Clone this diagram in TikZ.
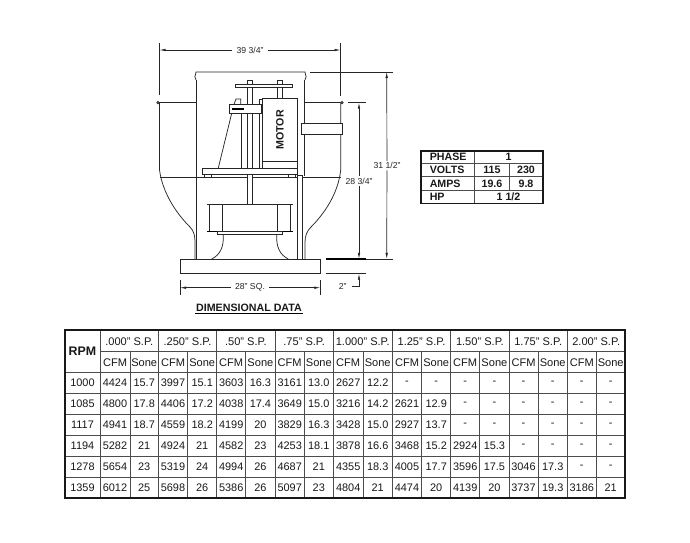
\documentclass[tikz,border=0pt]{standalone}
\usepackage{fontspec}
\setmainfont{Liberation Sans}
\usetikzlibrary{arrows.meta}
\tikzset{
  part/.style={draw=black!85,line width=0.55pt,fill=white},
  ln/.style={draw=black!85,line width=0.55pt},
  dim/.style={draw=black!85,line width=0.5pt},
  dimarrow/.style={dim,-{Latex[length=4.5pt,width=1.9pt]}},
  dimtext/.style={font=\fontsize{6.5}{7}\selectfont,text=black!85,inner xsep=3pt,inner ysep=1pt},
  cellt/.style={font=\fontsize{8.2}{9}\selectfont,text=black!90,inner sep=0pt},
  headt/.style={font=\fontsize{8.3}{9}\selectfont,text=black!90,inner sep=0pt},
  boldt/.style={font=\bfseries\fontsize{8}{9}\selectfont,text=black!90,inner sep=0pt},
  grid/.style={draw=black!70,line width=0.6pt},
  frame/.style={draw=black!90,line width=1.1pt},
}
\def\colx#1{\ifcase#1 82.5\or 115\or 144.2\or 173\or 202.2\or 231.2\or 260.4\or 289.7\or 318.8\or 348.2\or 377.7\or 407\or 436.2\or 465.2\or 494.4\or 523.5\or 552.7\or 581.8\or 610.7\fi}
\begin{document}
\begin{tikzpicture}[x=0.75pt,y=-0.75pt]
\useasboundingbox[fill=white] (0,0) rectangle (690,543);

% --- hood and housing
\draw[ln] (159.5,103) -- (159.5,170) .. controls (163,195) and (178,215) .. (190,227) .. controls (194,231) and (195,236) .. (195,242) -- (195,259);
\draw[ln] (340.7,103) -- (340.7,170) .. controls (338,195) and (323,215) .. (311,227) .. controls (307,231) and (305,236) .. (305,242) -- (305,259);
\draw[ln] (159.5,177) -- (340.7,177);
\draw[ln] (158,102.7) -- (196,102.7);
\draw[ln] (304,102.7) -- (342,102.7);
\draw[ln,fill=white] (158,102.7) circle (1.2);
\draw[ln,fill=white] (342,102.7) circle (1.2);
\draw[ln] (196,80) -- (196,259);
\draw[ln] (196,80) .. controls (193.5,78) and (195.5,76) .. (196,72) -- (305,72) .. controls (305.5,76) and (307.5,78) .. (305,80);
\draw[ln] (304,80) -- (304,176);

% --- top plate and studs
\draw[part] (247.3,80) rectangle (252.3,204);
\draw[part] (277.7,80) rectangle (282.7,99);
\draw[part] (235.3,84) rectangle (292.7,87.7);
\draw[ln] (241,113) -- (241,168);
\draw[ln] (259.3,99) -- (259.3,168);
\draw[ln] (259.3,99) -- (262.3,99);
% --- arm
\draw[part] (234,104.3) -- (236,99) -- (240.7,99) -- (240.7,104.3);
\draw[part] (229.3,104.3) rectangle (261.7,113.3);
\draw[draw=black,line width=0.9pt] (232,109) -- (244,109);
\draw[ln] (231.7,113.3) -- (218.3,168);
% --- motor
\draw[part] (262.3,98.3) rectangle (297.7,168);
\draw[ln] (262.3,161) -- (297.7,161);
\node[boldt,rotate=90] (motor) at (280,130) {MOTOR};
% --- side box
\draw[part] (301.7,123.3) rectangle (342.3,134.3);
% --- pan with feet
\draw[part] (202.3,168.3) rectangle (297.7,174.3);
\draw[part] (204.3,174.3) rectangle (211.7,177);
\draw[part] (288.3,174.3) rectangle (295.7,177);
\draw[part] (297.7,175) rectangle (302.3,259);
\draw[part] (247.3,174.3) rectangle (252.3,204);
% --- wheel
\draw[part] (209.3,204.3) rectangle (290.7,231.3);
\draw[ln] (207,204.3) -- (293,204.3);
\draw[draw=black,line width=0.75pt] (207,231.3) -- (293,231.3);
\draw[ln] (222.3,204.3) -- (222.3,231.3);
\draw[ln] (277.7,204.3) -- (277.7,231.3);
\draw[part] (217.3,231.3) rectangle (282.7,234.3);
\draw[ln] (223.3,234.3) .. controls (224,247) and (220,255) .. (211.7,259);
\draw[ln] (276.7,234.3) .. controls (276,247) and (280,255) .. (288.3,259);
% --- base
\draw[part,line width=0.7pt] (180,259) rectangle (320.3,273.7);

% --- overall width
\coordinate (wl) at (159.5,50);
\coordinate (wr) at (340.5,50);
\node[dimtext] (wtxt) at (250,50) {39 3/4"};
\draw[dim] (159.5,43) -- (159.5,95);
\draw[dim] (340.5,43) -- (340.5,96);
\draw[dimarrow] (wtxt) -- (wl);
\draw[dimarrow] (wtxt) -- (wr);
% --- base width
\coordinate (bl) at (180,287.7);
\coordinate (br) at (320.3,287.7);
\node[dimtext] (btxt) at (250,287.7) {28" SQ.};
\draw[dim] (180,280) -- (180,295);
\draw[dim] (320.3,280) -- (320.3,295);
\draw[dimarrow] (btxt) -- (bl);
\draw[dimarrow] (btxt) -- (br);
% --- heights
\draw[dim] (310,72) -- (393,72);
\draw[dim] (348,102.7) -- (366,102.7);
\draw[dim] (366,258.9) -- (393,258.9);
\draw[draw=black,line width=0.9pt] (326,258.9) -- (366,258.9);
\draw[dim] (326,273.7) -- (366,273.7);
\coordinate (ha) at (386.7,72);
\coordinate (hb) at (386.7,258.9);
\node[dimtext] (htxt) at (387,165.7) {31 1/2"};
\draw[dimarrow] (htxt) -- (ha);
\draw[dimarrow] (htxt) -- (hb);
\coordinate (ia) at (359,102.7);
\coordinate (ib) at (359,258.9);
\node[dimtext] (itxt) at (359,181) {28 3/4"};
\draw[dimarrow] (itxt) -- (ia);
\draw[dimarrow] (itxt) -- (ib);
\coordinate (ja) at (359,273.7);
\coordinate (jc) at (352,286.7);
\node[dimtext] (jtxt) at (342.7,286.7) {2"};
\draw[dimarrow] (jc) -- (359,286.7) -- (ja);

% --- title
\node[boldt] (title) at (249,307.7) {DIMENSIONAL DATA};
\draw[draw=black,line width=0.7pt] (195,313.3) -- (303,313.3);

% --- electrical table
\draw[grid] (421,163.3) -- (543,163.3);
\draw[grid] (421,176.7) -- (543,176.7);
\draw[grid] (421,190) -- (543,190);
\draw[grid] (474.3,151) -- (474.3,203.3);
\draw[grid] (509.3,163.3) -- (509.3,190);
\draw[frame] (421,151) rectangle (543,203.3);
\node[boldt,anchor=west] (ph) at (429.5,157.3) {PHASE};
\node[boldt,anchor=west] (vo) at (429.5,170.2) {VOLTS};
\node[boldt,anchor=west] (am) at (429.5,183.4) {AMPS};
\node[boldt,anchor=west] (hp) at (429.5,196.7) {HP};
\node[boldt] (ph1) at (508.5,157.3) {1};
\node[boldt] (v1) at (492,170.2) {115};
\node[boldt] (v2) at (526,170.2) {230};
\node[boldt] (a1) at (492,183.4) {19.6};
\node[boldt] (a2) at (526,183.4) {9.8};
\node[boldt] (hp1) at (508.5,196.7) {1 1/2};

% --- performance table
\foreach \x in {100,130,158.3,187.7,216.7,245.7,275,304.3,333.3,363,392.3,421.7,450.7,479.7,509,538,567.3,596.3}
  \draw[grid] (\x,351.7) -- (\x,498);
\foreach \x in {100,158.3,216.7,275,333.3,392.3,450.7,509,567.3}
  \draw[grid] (\x,330) -- (\x,351.7);
\draw[grid] (100,351.7) -- (625,351.7);
\foreach \y in {372.3,393.3,414.3,435,456,477.3}
  \draw[grid] (65,\y) -- (625,\y);
\draw[frame] (65,330) rectangle (625,498);
\node[font=\bfseries\fontsize{9.3}{10}\selectfont,text=black!90,inner sep=0pt] (rpm) at (82.5,351) {RPM};
\foreach \t/\xa [count=\c] in {.000/129.2,.250/187.5,.50/245.9,.75/304.2,1.000/362.8,1.25/421.5,1.50/479.9,1.75/538.2,2.00/596.2}
  \node[headt] (sp-\c) at (\xa,341.3) {\t" S.P.};
\foreach \c in {1,3,5,7,9,11,13,15,17}
  \node[headt] (cfm-\c) at (\colx{\c},362.3) {CFM};
\foreach \c in {2,4,6,8,10,12,14,16,18}
  \node[headt] (son-\c) at (\colx{\c},362.3) {Sone};
\foreach \r/\y/\vals in {
 1/383/{1000,4424,15.7,3997,15.1,3603,16.3,3161,13.0,2627,12.2,-,-,-,-,-,-,-,-},
 2/403.7/{1085,4800,17.8,4406,17.2,4038,17.4,3649,15.0,3216,14.2,2621,12.9,-,-,-,-,-,-},
 3/424.5/{1117,4941,18.7,4559,18.2,4199,20,3829,16.3,3428,15.0,2927,13.7,-,-,-,-,-,-},
 4/445.5/{1194,5282,21,4924,21,4582,23,4253,18.1,3878,16.6,3468,15.2,2924,15.3,-,-,-,-},
 5/466.5/{1278,5654,23,5319,24,4994,26,4687,21,4355,18.3,4005,17.7,3596,17.5,3046,17.3,-,-},
 6/487.7/{1359,6012,25,5698,26,5386,26,5097,23,4804,21,4474,20,4139,20,3737,19.3,3186,21}}{
  \foreach \t [count=\c from 0] in \vals {
    \node[cellt] (r\r-\c) at (\colx{\c},\y) {\t};
  }
}
\end{tikzpicture}
\end{document}
